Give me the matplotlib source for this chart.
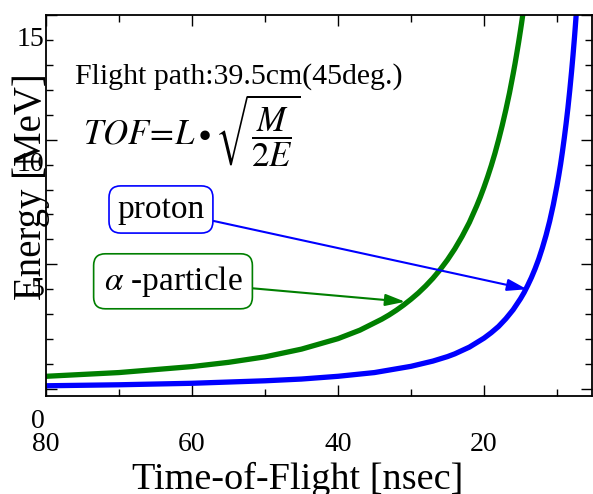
import matplotlib.pyplot as plt
import matplotlib.transforms as mtransforms
from matplotlib.ticker import MultipleLocator

# Lecturas del gráfico: TOF [ns] y energía [MeV]
tof_proton = [80, 70, 60, 50, 45, 40, 35, 30, 27, 25, 24, 22, 20, 19, 18, 17,
              16, 15, 14.5, 14, 13.5, 13, 12.5, 12, 11.5, 11, 10.5, 10, 9.75,
              9.5, 9.25, 9, 8.75, 8.5, 8.25, 8, 7.8, 7.6, 7.5, 7.35]
e_proton = [0.13, 0.17, 0.23, 0.33, 0.40, 0.51, 0.66, 0.91, 1.12, 1.30, 1.41,
            1.68, 2.04, 2.26, 2.51, 2.82, 3.18, 3.62, 3.87, 4.16, 4.47, 4.82,
            5.21, 5.66, 6.16, 6.73, 7.39, 8.15, 8.57, 9.02, 9.52, 10.06, 10.64,
            11.27, 11.97, 12.73, 13.39, 14.10, 14.48, 15.08]

tof_alpha = [80, 70, 60, 55, 50, 45, 40, 37, 34, 33, 32, 31, 30, 29, 28, 27,
             26, 25, 24, 23, 22, 21, 20.5, 20, 19.5, 19, 18.5, 18, 17.5, 17,
             16.5, 16, 15.75, 15.5, 15.25, 15, 14.85, 14.65]
e_alpha = [0.51, 0.66, 0.90, 1.07, 1.29, 1.60, 2.02, 2.36, 2.80, 2.97, 3.16,
           3.37, 3.60, 3.85, 4.13, 4.44, 4.79, 5.18, 5.62, 6.12, 6.68, 7.34,
           7.70, 8.09, 8.51, 8.96, 9.45, 9.99, 10.57, 11.20, 11.88, 12.64,
           13.04, 13.47, 13.91, 14.38, 14.67, 15.08]

x_ticks = [80, 60, 40, 20]
y_ticks = [0, 5, 10, 15]

# Puntas de flecha y posiciones de etiquetas (datos)
proton_tip = (14.1, 4.0)
alpha_tip = (30.8, 3.5)

plt.rcParams['font.family'] = ['Liberation Serif', 'DejaVu Serif']
plt.rcParams['mathtext.fontset'] = 'stix'

fig = plt.figure(figsize=(5.93, 4.94), dpi=100)
ax = fig.add_axes([46 / 593, 98 / 494, 546 / 593, 381 / 494])

ax.plot(tof_alpha, e_alpha, color='#007f00', lw=3.8, solid_capstyle='round',
        solid_joinstyle='round')
ax.plot(tof_proton, e_proton, color='#0000ff', lw=3.8, solid_capstyle='round',
        solid_joinstyle='round')

ax.set_xlim(80, 5.2)
ax.set_ylim(-0.28, 15.0)

ax.set_xticks(x_ticks)
ax.xaxis.set_minor_locator(MultipleLocator(10))
ax.set_yticks(y_ticks)
ax.yaxis.set_minor_locator(MultipleLocator(1))
ax.set_yticklabels([])
ax.tick_params(which='both', direction='in', top=True, right=True, width=1)
ax.tick_params(which='major', length=8)
ax.tick_params(which='minor', length=5)
ax.tick_params(axis='x', labelsize=20, pad=26)
for s in ax.spines.values():
    s.set_linewidth(1.3)

# Etiquetas del eje y (desplazadas como en el original)
trans = mtransforms.blended_transform_factory(ax.transAxes, ax.transData)
for v, y in zip(y_ticks, [-1.32, 4.0, 9.0, 14.0]):
    ax.text(-0.003, y, str(v), transform=trans, ha='right', va='center',
            fontsize=20, clip_on=False)

fig.text(298 / 593, 5 / 494, 'Time-of-Flight [nsec]', ha='center',
         va='baseline', fontsize=27.5)
fig.text(31 / 593, 1 - 187 / 494, 'Energy [MeV]', rotation=90, ha='center',
         va='center', fontsize=28)

ax.text((75 - 46) / 546, 1 - (77 - 15) / 381,
        'Flight path:39.5cm(45deg.)', transform=ax.transAxes, ha='left',
        va='center', fontsize=21.5)
ax.text((83 - 46) / 546, 1 - (130 - 15) / 381,
        r'$TOF\!=\!L\bullet\sqrt{\dfrac{M}{2E}}$', transform=ax.transAxes,
        ha='left', va='center', fontsize=25)

ax.annotate('proton', xy=proton_tip, xytext=(64.25, 7.2),
            ha='center', va='center', fontsize=24,
            bbox=dict(boxstyle='round,pad=0.25,rounding_size=0.35',
                      fc='white', ec='#0000ff', lw=1.2),
            arrowprops=dict(arrowstyle='-|>,head_length=0.5,head_width=0.15',
                            color='#0000ff', lw=1.5, shrinkA=0, shrinkB=0))
ax.annotate(r'$\alpha$ -particle', xy=alpha_tip, xytext=(62.6, 4.32),
            ha='center', va='center', fontsize=24,
            bbox=dict(boxstyle='round,pad=0.3,rounding_size=0.35',
                      fc='white', ec='#007f00', lw=1.2),
            arrowprops=dict(arrowstyle='-|>,head_length=0.5,head_width=0.15',
                            color='#007f00', lw=1.5, shrinkA=0, shrinkB=0))

fig.savefig('out.png', dpi=100)
